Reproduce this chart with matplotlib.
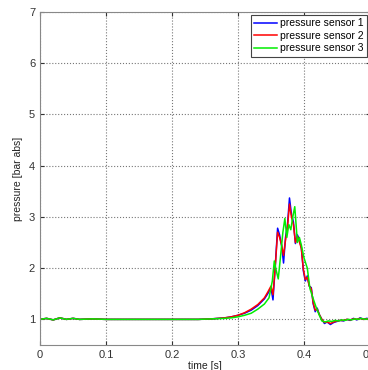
import matplotlib.pyplot as plt

# baseline section (shared shape)
t_flat = [0.0, 0.01, 0.02, 0.03, 0.04, 0.05, 0.06, 0.08, 0.10, 0.12, 0.15, 0.18, 0.20, 0.22, 0.24, 0.26]
p_flat = [1.0, 1.02, 0.99, 1.03, 1.0, 1.02, 1.0, 1.01, 1.0, 1.0, 1.0, 1.0, 1.0, 1.0, 1.0, 1.01]

# sensor 1 (blue)
t1 = [0.28, 0.29, 0.30, 0.31, 0.32, 0.33, 0.34, 0.345, 0.350, 0.353, 0.356, 0.360, 0.363,
      0.366, 0.369, 0.372, 0.375, 0.378, 0.381, 0.384, 0.387, 0.390, 0.393, 0.396, 0.399,
      0.402, 0.405, 0.408, 0.411, 0.414, 0.417, 0.420, 0.423, 0.427, 0.431, 0.435, 0.440,
      0.445, 0.450, 0.455, 0.460, 0.465, 0.470, 0.475, 0.480, 0.485, 0.490, 0.495, 0.50]
p1 = [1.03, 1.05, 1.08, 1.12, 1.18, 1.27, 1.40, 1.50, 1.62, 1.38, 1.95, 2.78, 2.65,
      2.45, 2.10, 2.60, 2.85, 3.37, 3.05, 2.90, 2.48, 2.65, 2.55, 2.40, 1.95,
      1.75, 1.85, 1.65, 1.62, 1.30, 1.15, 1.22, 1.10, 1.00, 0.92, 0.95, 0.90,
      0.94, 0.96, 0.98, 0.97, 1.00, 0.98, 1.02, 0.99, 1.03, 1.00, 1.02, 1.01]

# sensor 2 (red)
t2 = [0.28, 0.29, 0.30, 0.31, 0.32, 0.33, 0.34, 0.345, 0.350, 0.353, 0.356, 0.360, 0.363,
      0.366, 0.369, 0.372, 0.375, 0.378, 0.381, 0.384, 0.387, 0.390, 0.393, 0.396, 0.399,
      0.402, 0.405, 0.408, 0.411, 0.414, 0.417, 0.420, 0.423, 0.427, 0.431, 0.435, 0.440,
      0.445, 0.450, 0.455, 0.460, 0.465, 0.470, 0.475, 0.480, 0.485, 0.490, 0.495, 0.50]
p2 = [1.03, 1.05, 1.08, 1.13, 1.20, 1.29, 1.42, 1.53, 1.65, 1.48, 1.95, 2.70, 2.60,
      2.45, 2.25, 2.55, 2.80, 3.25, 3.00, 2.85, 2.50, 2.62, 2.52, 2.38, 1.98,
      1.78, 1.82, 1.65, 1.60, 1.32, 1.18, 1.20, 1.10, 1.00, 0.94, 0.95, 0.92,
      0.95, 0.97, 0.98, 0.98, 1.00, 0.99, 1.01, 1.00, 1.02, 1.00, 1.01, 1.01]

# sensor 3 (green)
t3 = [0.28, 0.29, 0.30, 0.31, 0.32, 0.33, 0.34, 0.347, 0.352, 0.355, 0.358, 0.361, 0.365,
      0.368, 0.371, 0.374, 0.377, 0.380, 0.383, 0.386, 0.390, 0.393, 0.396, 0.400, 0.405,
      0.409, 0.414, 0.418, 0.422, 0.427, 0.432, 0.437, 0.442, 0.447, 0.452, 0.457, 0.462,
      0.467, 0.472, 0.477, 0.482, 0.487, 0.492, 0.497, 0.50]
p3 = [1.02, 1.03, 1.05, 1.08, 1.12, 1.20, 1.30, 1.42, 1.75, 2.14, 1.95, 1.79, 2.30,
      2.70, 2.97, 2.60, 2.85, 2.75, 3.00, 3.20, 2.50, 2.60, 2.45, 2.20, 2.00,
      1.60, 1.40, 1.25, 1.12, 0.97, 0.95, 0.97, 0.96, 0.98, 0.97, 0.99, 0.98,
      1.00, 0.99, 1.01, 1.00, 1.02, 1.00, 1.01, 1.00]

labels = ['pressure sensor 1', 'pressure sensor 2', 'pressure sensor 3']
colors = ['#0000ff', '#ff0000', '#00ee00']

plt.rcParams['font.family'] = ['Liberation Sans', 'DejaVu Sans']

fig = plt.figure(figsize=(3.68, 3.70), dpi=100)
ax = fig.add_axes([40 / 368, 1 - 345 / 370, 330 / 368, 333 / 370])

for t, p, lab, c in [(t1, p1, labels[0], colors[0]),
                     (t2, p2, labels[1], colors[1]),
                     (t3, p3, labels[2], colors[2])]:
    ax.plot(t_flat + t, p_flat + p, color=c, lw=1.1, label=lab)

ax.set_xlim(0, 0.5)
ax.set_ylim(0.5, 7)
ax.set_xticks([0, 0.1, 0.2, 0.3, 0.4, 0.5])
ax.set_xticklabels(['0', '0.1', '0.2', '0.3', '0.4', '0.5'])
ax.set_yticks([1, 2, 3, 4, 5, 6, 7])
ax.grid(True, linestyle=':', color='#777777', linewidth=0.8)
ax.tick_params(direction='in', length=3, labelsize=8, colors='#333333', top=True, right=True)
for s in ax.spines.values():
    s.set_color('#888888')
    s.set_linewidth(0.8)

ax.set_xlabel('time [s]', fontsize=7.5, color='#222222', labelpad=1)
ax.set_ylabel('pressure [bar abs]', fontsize=7.5, color='#222222', labelpad=4)

leg = ax.legend(loc='upper right', fontsize=7.5, handlelength=2.2, handletextpad=0.3,
                borderaxespad=0.3, labelspacing=0.25, fancybox=False, framealpha=1,
                borderpad=0.3)
leg.get_frame().set_edgecolor('#444444')
leg.get_frame().set_linewidth(0.8)

fig.savefig('out.png', dpi=100)
